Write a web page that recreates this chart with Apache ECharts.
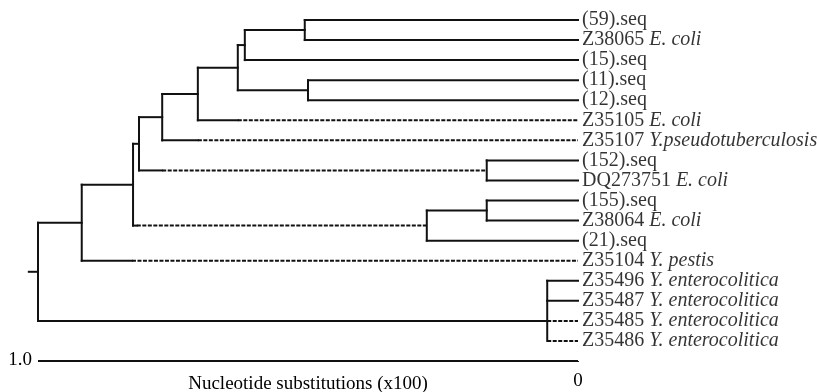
<!DOCTYPE html>
<html>
<head>
<meta charset="utf-8">
<script src="https://cdn.jsdelivr.net/npm/echarts@6/dist/echarts.min.js"></script>
<style>
  html, body { margin: 0; padding: 0; background: #fff; }
  #chart { width: 817px; height: 392px; }
</style>
</head>
<body>
<div id="chart"></div>
<script>
// leaves, top to bottom
const leafNames = ['(59).seq', 'Z38065', '(15).seq', '(11).seq', '(12).seq', 'Z35105', 'Z35107',
  '(152).seq', 'DQ273751', '(155).seq', 'Z38064', '(21).seq', 'Z35104',
  'Z35496', 'Z35487', 'Z35485', 'Z35486'];
const leafSpecies = ['', 'E. coli', '', '', '', 'E. coli', 'Y.pseudotuberculosis',
  '', 'E. coli', '', 'E. coli', '', 'Y. pestis',
  'Y. enterocolitica', 'Y. enterocolitica', 'Y. enterocolitica', 'Y. enterocolitica'];

// internal nodes: name, height (substitutions x100), children (number = leaf index, string = node)
const nodeNames = ['A', 'B', 'C', 'D', 'E', 'F', 'H', 'G', 'K', 'J', 'I', 'L', 'N', 'M'];
const nodeHeights = [0.506, 0.617, 0.500, 0.630, 0.704, 0.770, 0.169, 0.813, 0.169, 0.280, 0.824, 0.919, 0.057, 1.0];
const nodeChildren = [[0, 1], ['A', 2], [3, 4], ['B', 'C'], ['D', 5], ['E', 6], [7, 8], ['F', 'H'],
  [9, 10], ['K', 11], ['G', 'J'], ['I', 12], [13, 14, 15, 16], ['L', 'N']];
// the Y. enterocolitica group hangs from the level of its third leaf
const nodeJoinY = { N: 15 };
// branches drawn dotted from this height on
const dashStart = { 5: 0.630, 6: 0.704, H: 0.770, J: 0.817, 12: 0.826, 15: 0.057, 16: 0.057 };
const rootStub = 1.017;

// scale bar
const scaleFrom = 1.0, scaleTo = 0;
const scaleLabels = ['1.0', '0'];

const height = {}, ypos = {};
leafNames.forEach((n, i) => { height[i] = 0; ypos[i] = i; });
nodeNames.forEach((n, k) => {
  height[n] = nodeHeights[k];
  const ys = nodeChildren[k].map(c => ypos[c]);
  ypos[n] = nodeJoinY[n] != null ? nodeJoinY[n] : (Math.min(...ys) + Math.max(...ys)) / 2;
});

const segs = [];
nodeNames.forEach((n, k) => {
  const h = nodeHeights[k];
  const ys = nodeChildren[k].map(c => ypos[c]);
  segs.push([h, Math.min(...ys), h, Math.max(...ys), 0]);
  nodeChildren[k].forEach(c => {
    const y = ypos[c], ch = height[c], d = dashStart[c];
    if (d != null) {
      if (d < h) segs.push([h, y, d, y, 0]);
      segs.push([d, y, ch, y, 1]);
    } else {
      segs.push([h, y, ch, y, 0]);
    }
  });
});
const root = nodeNames[nodeNames.length - 1];
segs.push([rootStub, ypos[root], height[root], ypos[root], 0]);

const font = 'Liberation Serif, Times New Roman, serif';
const chart = echarts.init(document.getElementById('chart'));
chart.setOption({
  animation: false,
  grid: { left: 38, right: 239, top: 20, bottom: 31, outerBoundsMode: 'none' },
  xAxis: {
    type: 'value', min: 0, max: 1, inverse: true,
    axisLine: { show: false }, axisTick: { show: false }, axisLabel: { show: false }, splitLine: { show: false },
    name: 'Nucleotide substitutions (x100)', nameLocation: 'middle', nameGap: 14,
    nameTextStyle: { fontFamily: font, fontSize: 19, color: '#000' }
  },
  yAxis: { type: 'value', min: 0, max: 17, inverse: true, show: false },
  series: [
    {
      type: 'custom',
      clip: false,
      data: segs,
      encode: { x: [0, 2], y: [1, 3] },
      renderItem: (params, api) => {
        const p1 = api.coord([api.value(0), api.value(1)]);
        const p2 = api.coord([api.value(2), api.value(3)]);
        const dashed = api.value(4) === 1;
        return {
          type: 'line',
          shape: { x1: p1[0], y1: p1[1], x2: p2[0], y2: p2[1] },
          style: {
            stroke: '#111', lineWidth: 2,
            lineDash: dashed ? [4, 1.5] : null,
            lineCap: dashed ? 'butt' : 'square'
          }
        };
      }
    },
    {
      type: 'scatter',
      symbolSize: 0,
      data: leafNames.map((n, i) => [0, i]),
      label: {
        show: true, position: 'right', distance: 4,
        formatter: p => {
          const i = p.dataIndex;
          return leafSpecies[i] ? '{n|' + leafNames[i] + ' }{i|' + leafSpecies[i] + '}' : '{n|' + leafNames[i] + '}';
        },
        rich: {
          n: { fontFamily: font, fontSize: 20, color: '#000' },
          i: { fontFamily: font, fontSize: 20, color: '#000', fontStyle: 'italic' }
        }
      }
    },
    {
      type: 'line',
      symbol: 'circle', symbolSize: 0,
      lineStyle: { color: '#111', width: 2 },
      data: [
        { value: [scaleFrom, 17], label: { show: true, position: 'left', distance: 6, offset: [0, -1], formatter: scaleLabels[0] } },
        { value: [scaleTo, 17], label: { show: true, position: 'bottom', distance: 11, formatter: scaleLabels[1] } }
      ],
      label: { fontFamily: font, fontSize: 19, color: '#000' }
    },
    {
      type: 'line',
      symbol: 'none',
      lineStyle: { color: '#111', width: 2 },
      data: [[scaleTo, 17], [scaleTo, 17.3]]
    }
  ]
});
</script>
</body>
</html>
